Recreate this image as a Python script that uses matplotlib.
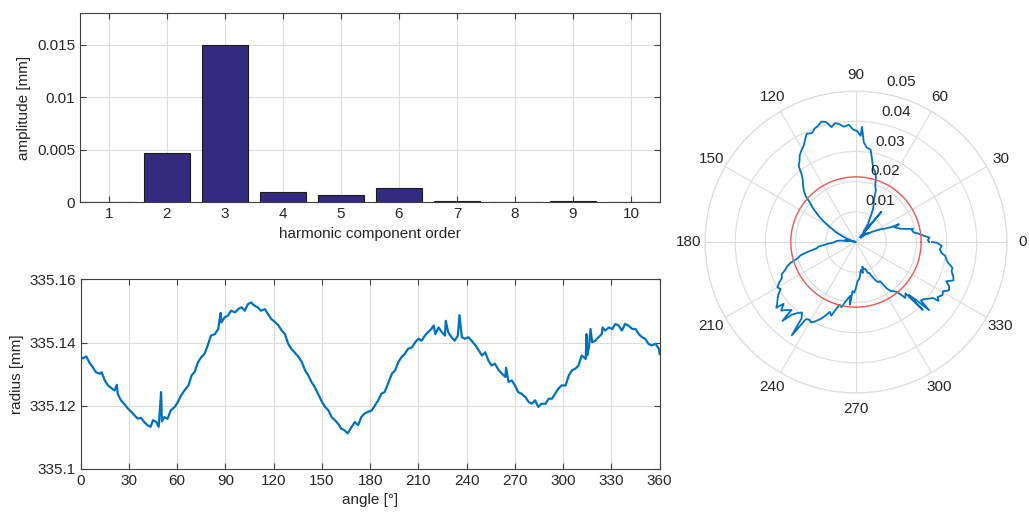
import matplotlib
matplotlib.use('Agg')
import matplotlib.pyplot as plt
import numpy as np

# harmonic spectrum
orders = [1, 2, 3, 4, 5, 6, 7, 8, 9, 10]
amplitudes = [0.0, 0.00468, 0.01497, 0.00092, 0.00066, 0.00133,
              0.00012, 0.00005, 0.00010, 0.00005]

angle_deg = [0, 1.5, 3.5, 5.5, 7.5, 9.5, 12, 13, 15, 17, 19, 21, 22.5, 23, 25, 27,
             29.5, 31.5, 33.5, 35.5, 37.5, 39.5, 41.5, 43.5, 45, 47, 48.5, 50, 50.5,
             52, 54, 56, 58.5, 60.5, 62.5, 64.5, 67, 69, 71, 73, 75, 77, 79, 81, 83.5,
             85.5, 87, 87.5, 89.5, 91.5, 93.5, 96, 98, 100, 102, 104, 106, 108, 110,
             112, 114.5, 116.5, 118.5, 121, 123, 125, 127, 129, 131, 133, 135.5,
             137.5, 139.5, 141.5, 143.5, 145.5, 147.5, 150, 152, 154, 156, 158, 160,
             162, 164, 166, 168.5, 170.5, 172.5, 174.5, 176.5, 178.5, 181, 183, 185,
             187, 189, 191.5, 193.5, 195.5, 197.5, 199.5, 201.5, 203.5, 206, 208,
             210, 212, 214, 216, 218, 219.5, 220.5, 222.5, 224.5, 226.5, 227, 228.5,
             230.5, 232.5, 234.5, 235.5, 237, 239, 241, 243, 245.5, 247.5, 249.5,
             251.5, 253.5, 255.5, 257.5, 260, 262, 264, 264.5, 266, 268, 270, 272,
             274, 276.5, 278.5, 280.5, 282.5, 284.5, 286.5, 289, 291, 293, 295, 297,
             299, 301.5, 303.5, 305.5, 307.5, 309.5, 311.5, 314, 314.5, 315, 316,
             317, 318, 320, 322, 324, 324.5, 326, 328.5, 330.5, 332.5, 334.5, 336.5,
             338.5, 340.5, 343, 345, 347, 349, 351, 353, 355, 357.5, 359.5, 360]
radius_mm = [335.1354, 335.1350, 335.1356, 335.1336, 335.1322, 335.1306, 335.1301,
             335.1306, 335.1280, 335.1264, 335.1256, 335.1248, 335.1266, 335.1238,
             335.1217, 335.1206, 335.1190, 335.1180, 335.1169, 335.1159, 335.1161,
             335.1148, 335.1138, 335.1133, 335.1154, 335.1148, 335.1133, 335.1243,
             335.1150, 335.1164, 335.1158, 335.1185, 335.1196, 335.1212, 335.1233,
             335.1248, 335.1264, 335.1296, 335.1308, 335.1338, 335.1354, 335.1364,
             335.1391, 335.1422, 335.1427, 335.1443, 335.1494, 335.1464, 335.1480,
             335.1485, 335.1501, 335.1496, 335.1506, 335.1512, 335.1501, 335.1522,
             335.1527, 335.1517, 335.1512, 335.1501, 335.1506, 335.1490, 335.1475,
             335.1464, 335.1454, 335.1438, 335.1427, 335.1396, 335.1380, 335.1369,
             335.1354, 335.1338, 335.1312, 335.1296, 335.1275, 335.1259, 335.1238,
             335.1212, 335.1196, 335.1185, 335.1164, 335.1154, 335.1143, 335.1127,
             335.1122, 335.1112, 335.1133, 335.1148, 335.1138, 335.1164, 335.1175,
             335.1180, 335.1185, 335.1201, 335.1217, 335.1238, 335.1243, 335.1275,
             335.1301, 335.1312, 335.1338, 335.1354, 335.1364, 335.1380, 335.1385,
             335.1401, 335.1412, 335.1406, 335.1422, 335.1433, 335.1443, 335.1454,
             335.1427, 335.1448, 335.1433, 335.1422, 335.1469, 335.1433, 335.1417,
             335.1406, 335.1422, 335.1487, 335.1417, 335.1412, 335.1417, 335.1406,
             335.1391, 335.1375, 335.1359, 335.1369, 335.1343, 335.1327, 335.1333,
             335.1312, 335.1301, 335.1291, 335.1320, 335.1275, 335.1280, 335.1264,
             335.1243, 335.1238, 335.1227, 335.1212, 335.1206, 335.1217, 335.1196,
             335.1206, 335.1206, 335.1222, 335.1222, 335.1238, 335.1254, 335.1264,
             335.1264, 335.1296, 335.1312, 335.1317, 335.1327, 335.1359, 335.1348,
             335.1427, 335.1360, 335.1385, 335.1443, 335.1401, 335.1406, 335.1417,
             335.1427, 335.1448, 335.1438, 335.1448, 335.1443, 335.1459, 335.1454,
             335.1438, 335.1459, 335.1454, 335.1443, 335.1443, 335.1427, 335.1417,
             335.1412, 335.1396, 335.1391, 335.1396, 335.1380, 335.1364]

rticks = [0.01, 0.02, 0.03, 0.04, 0.05]

plt.rcParams['font.family'] = ['Liberation Sans', 'DejaVu Sans']
plt.rcParams['font.size'] = 10.5
dark = '#262626'
gridc = '#dcdcdc'
blue = '#0072BD'


def matlab_style(ax):
    ax.set_axisbelow(True)
    ax.grid(True, color=gridc, linewidth=0.8)
    for s in ax.spines.values():
        s.set_color('#404040')
        s.set_linewidth(0.8)
    ax.tick_params(direction='in', top=True, right=True, length=4,
                   color='#404040', labelcolor=dark, labelsize=11)


fig = plt.figure(figsize=(10.29, 5.17), dpi=100)

# bar chart of harmonic amplitudes
ax1 = fig.add_axes([0.0777, 0.609, 0.5637, 0.3656])
ax1.bar(orders, amplitudes, width=0.8, color='#342a80', edgecolor='#1a1a1a', linewidth=0.8)
ax1.set_xlim(0.5, 10.5)
ax1.set_ylim(0, 0.018)
ax1.set_xticks(orders)
ax1.set_yticks([0, 0.005, 0.01, 0.015])
ax1.set_yticklabels(['%g' % v for v in [0, 0.005, 0.01, 0.015]])
ax1.set_xlabel('harmonic component order', color=dark, labelpad=4, fontsize=11)
ax1.set_ylabel('amplitude [mm]', color=dark, fontsize=11)
matlab_style(ax1)

# radius vs angle
ax2 = fig.add_axes([0.0784, 0.0934, 0.5627, 0.366])
ax2.plot(angle_deg, radius_mm, color=blue, linewidth=1.6)
ax2.set_xlim(0, 360)
ax2.set_ylim(335.1, 335.16)
ax2.set_xticks(range(0, 361, 30))
yt = [335.1, 335.12, 335.14, 335.16]
ax2.set_yticks(yt)
ax2.set_yticklabels(['%g' % v for v in yt])
ax2.set_xlabel('angle [°]', color=dark, labelpad=4, fontsize=11)
ax2.set_ylabel('radius [mm]', color=dark, fontsize=11)
matlab_style(ax2)

# polar deviation plot
r = np.array(radius_mm)
dev = r - r.min()
theta = np.deg2rad(angle_deg)
ax3 = fig.add_axes([0.6851, 0.2398, 0.2935, 0.5841], projection='polar')
ax3.plot(theta, dev, color=blue, linewidth=1.3)
circ = np.linspace(0, 2 * np.pi, 361)
ax3.plot(circ, np.full_like(circ, r.mean() - r.min()), color='#f05555', linewidth=1.0)
ax3.set_ylim(0, 0.05)
ax3.set_yticks(rticks)
ax3.set_yticklabels([])
ax3.set_xticks(np.deg2rad(np.arange(0, 360, 30)))
ax3.set_xticklabels([str(a) for a in range(0, 360, 30)])
ax3.tick_params(axis='x', pad=1, labelcolor=dark, labelsize=11)
ax3.grid(True, color=gridc, linewidth=0.8)
ax3.spines['polar'].set_color(gridc)
for v in rticks:
    ax3.annotate('%g' % v, xy=(np.deg2rad(80), v), xytext=(3, 3),
                 textcoords='offset points', ha='left', va='bottom',
                 color=dark, fontsize=11)

fig.savefig('out.png', dpi=100)
